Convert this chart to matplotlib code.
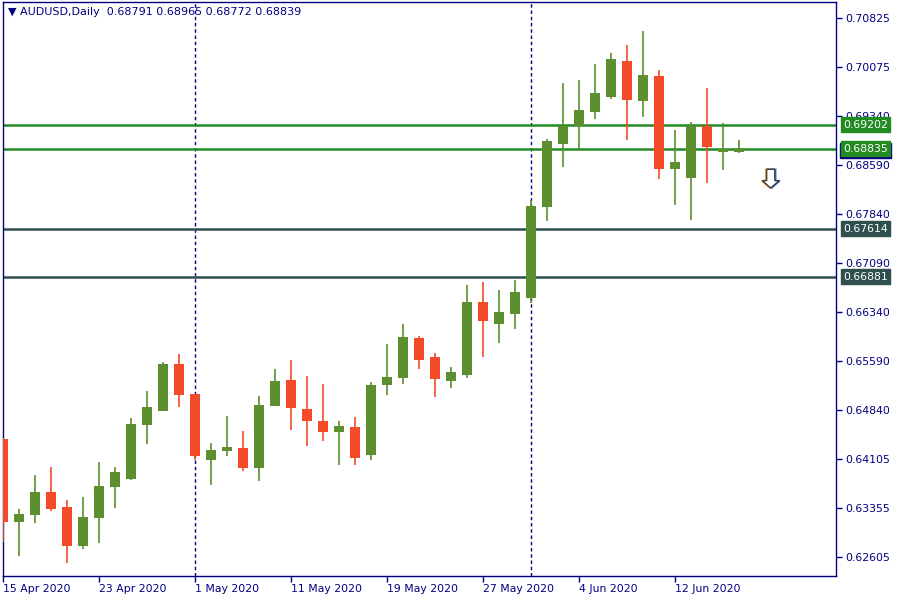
"""
AUDUSD daily candlestick chart with support/resistance levels (MT4 style).
"""

import numpy as np
import pandas as pd
import matplotlib.pyplot as plt
from matplotlib.patches import Polygon
from matplotlib.transforms import blended_transform_factory, ScaledTranslation

# Daily bars, 15 Apr 2020 .. 18 Jun 2020
start_date = "2020-04-15"
opens = [0.64405, 0.63139, 0.63245, 0.63596, 0.63367, 0.62772, 0.63200, 0.63673,
         0.63795, 0.64619, 0.64832, 0.65550, 0.65092, 0.64085, 0.64222, 0.64268,
         0.63963, 0.64909, 0.65305, 0.64863, 0.64680, 0.64512, 0.64588, 0.64161,
         0.65229, 0.65336, 0.65946, 0.65656, 0.65290, 0.65382, 0.66496, 0.66160,
         0.66313, 0.66557, 0.67945, 0.68907, 0.69182, 0.69395, 0.69624, 0.70173,
         0.69563, 0.69945, 0.68525, 0.68388, 0.69182, 0.68785, 0.68791]
highs = [0.64421, 0.63337, 0.63856, 0.63978, 0.63474, 0.63520, 0.64054, 0.63978,
         0.64726, 0.65138, 0.65580, 0.65702, 0.65092, 0.64344, 0.64756, 0.64527,
         0.65061, 0.65473, 0.65611, 0.65367, 0.65244, 0.64680, 0.64741, 0.65275,
         0.65855, 0.66160, 0.65977, 0.65717, 0.65504, 0.66755, 0.66801, 0.66679,
         0.66831, 0.68052, 0.68983, 0.69838, 0.69883, 0.70128, 0.70295, 0.70418,
         0.70631, 0.70036, 0.69120, 0.69243, 0.69761, 0.69227, 0.68965]
lows = [0.62833, 0.62620, 0.63123, 0.63306, 0.62513, 0.62727, 0.62818, 0.63352,
        0.63779, 0.64329, 0.64832, 0.64893, 0.64085, 0.63703, 0.64146, 0.63917,
        0.63764, 0.64909, 0.64542, 0.64298, 0.64375, 0.64008, 0.64008, 0.64085,
        0.65077, 0.65244, 0.65473, 0.65046, 0.65183, 0.65336, 0.65656, 0.65870,
        0.66084, 0.66480, 0.67732, 0.68556, 0.68800, 0.69288, 0.69594, 0.68968,
        0.69319, 0.68373, 0.67976, 0.67747, 0.68312, 0.68510, 0.68772]
closes = [0.63139, 0.63261, 0.63596, 0.63337, 0.62772, 0.63215, 0.63688, 0.63902,
          0.64634, 0.64893, 0.65550, 0.65077, 0.64146, 0.64237, 0.64283, 0.63963,
          0.64924, 0.65290, 0.64878, 0.64680, 0.64512, 0.64604, 0.64115, 0.65229,
          0.65351, 0.65962, 0.65611, 0.65321, 0.65428, 0.66496, 0.66206, 0.66343,
          0.66648, 0.67961, 0.68953, 0.69182, 0.69426, 0.69685, 0.70204, 0.69578,
          0.69960, 0.68525, 0.68632, 0.69182, 0.68861, 0.68831, 0.68839]

# Horizontal levels
resistance_levels = [0.69202, 0.68835]
support_levels = [0.67614, 0.66881]

# Right axis ticks
price_ticks = [0.70825, 0.70075, 0.69340, 0.68590, 0.67840, 0.67090,
               0.66340, 0.65590, 0.64840, 0.64105, 0.63355, 0.62605]
date_tick_step = 6

# Signal arrow: bar position and price of the tip
arrow_bar = 47.98
arrow_tip = 0.68235

NAVY = "#000080"
BULL = "#5b8f2f"
BEAR = "#f34b27"
GREEN_LVL = "#228b22"
DARK_LVL = "#2f4f4f"


def main():
    plt.rcParams["font.family"] = ["DejaVu Sans"]
    dates = pd.bdate_range(start_date, periods=len(opens))
    x = np.arange(len(opens))
    o, h, l, c = map(np.array, (opens, highs, lows, closes))
    up = c >= o
    colors = np.where(up, BULL, BEAR)

    fig = plt.figure(figsize=(9, 6), dpi=100)
    ax = fig.add_axes([3 / 900, 24 / 600, 833 / 900, 574 / 600])

    # month separators
    for i in range(1, len(dates)):
        if dates[i].month != dates[i - 1].month:
            ax.axvline(i, color=NAVY, linestyle=(0, (2.5, 2)), linewidth=1, zorder=1)

    for lvl in resistance_levels:
        ax.axhline(lvl, color=GREEN_LVL, linewidth=1.8, zorder=2)
    for lvl in support_levels:
        ax.axhline(lvl, color=DARK_LVL, linewidth=1.8, zorder=2)

    # candles
    ax.vlines(x, l, h, colors=colors, linewidth=1.2, zorder=3)
    ax.bar(x, c - o, bottom=o, width=0.68, color=colors, edgecolor="none", zorder=4)

    # signal arrow (hollow, pointing down)
    sw, hw = 0.25, 0.52
    y_head = arrow_tip + 0.00112
    y_top = arrow_tip + 0.00286
    pts = [(arrow_bar - sw, y_top), (arrow_bar + sw, y_top), (arrow_bar + sw, y_head),
           (arrow_bar + hw, y_head), (arrow_bar, arrow_tip), (arrow_bar - hw, y_head),
           (arrow_bar - sw, y_head)]
    ax.add_patch(Polygon([(px - 0.06, py) for px, py in pts], closed=True,
                         facecolor="none", edgecolor="#f0a040", linewidth=1.2, zorder=5))
    ax.add_patch(Polygon([(px + 0.06, py) for px, py in pts], closed=True,
                         facecolor="none", edgecolor="#3a7fd0", linewidth=1.2, zorder=5))
    ax.add_patch(Polygon(pts, closed=True, facecolor="white", edgecolor="#333333",
                         linewidth=0.9, zorder=6))

    ax.set_xlim(0, 52.06)
    ax.set_ylim(0.62314, 0.71074)

    # axes styling
    for sp in ax.spines.values():
        sp.set_color(NAVY)
        sp.set_linewidth(1)
    ax.yaxis.tick_right()
    ax.set_yticks(price_ticks)
    ax.set_yticklabels([f"{t:.5f}" for t in price_ticks])
    tick_idx = x[::date_tick_step]
    ax.set_xticks(tick_idx)
    ax.set_xticklabels([f"{dates[i].day} {dates[i]:%b %Y}" for i in tick_idx],
                       ha="left")
    ax.tick_params(axis="both", colors=NAVY, labelsize=7.8, length=4, width=1,
                   labelcolor=NAVY)
    ax.tick_params(axis="y", pad=3)
    ax.tick_params(axis="x", pad=2)

    # price labels on the right axis
    tr = blended_transform_factory(ax.transAxes, ax.transData)
    tr_up = tr + ScaledTranslation(0, -2 / 100, fig.dpi_scale_trans)
    ax.text(1.0085, closes[-1], f"{closes[-1]:.5f}", transform=tr_up, color="white",
            fontsize=7.8, va="center", ha="left", clip_on=False, zorder=7,
            bbox=dict(facecolor=NAVY, edgecolor=NAVY, pad=2.0))
    for lvl in resistance_levels:
        ax.text(1.0085, lvl, f"{lvl:.5f}", transform=tr, color="white", fontsize=7.8,
                va="center", ha="left", clip_on=False, zorder=8,
                bbox=dict(facecolor=GREEN_LVL, edgecolor=GREEN_LVL, pad=1.6))
    for lvl in support_levels:
        ax.text(1.0085, lvl, f"{lvl:.5f}", transform=tr, color="white", fontsize=7.8,
                va="center", ha="left", clip_on=False, zorder=8,
                bbox=dict(facecolor=DARK_LVL, edgecolor=DARK_LVL, pad=1.6))

    title = (f"\u25bc AUDUSD,Daily  {opens[-1]:.5f} {highs[-1]:.5f} "
             f"{lows[-1]:.5f} {closes[-1]:.5f}")
    ax.text(0.006, 0.983, title, transform=ax.transAxes, color=NAVY, fontsize=8,
            va="center", ha="left", zorder=9)

    fig.savefig("out.png", dpi=100, facecolor="white")


if __name__ == "__main__":
    main()
